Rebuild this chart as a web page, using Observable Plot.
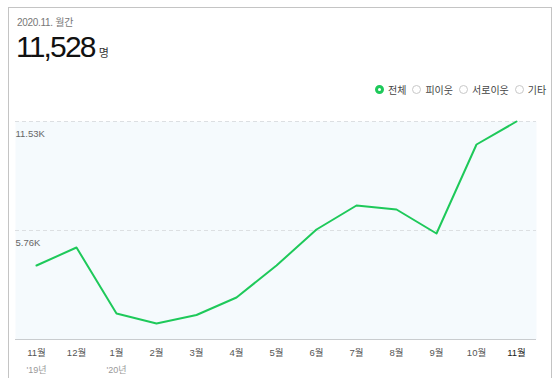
<!DOCTYPE html>
<html>
<head>
<meta charset="utf-8">
<script src="https://cdn.jsdelivr.net/npm/d3@7"></script>
<script src="https://cdn.jsdelivr.net/npm/@observablehq/plot@0.6"></script>
<style>
  html, body { margin: 0; padding: 0; background: #fff; }
  body { width: 554px; height: 378px; position: relative; overflow: hidden;
         font-family: "Liberation Sans", "Noto Sans CJK KR", sans-serif; }
  #frame { position: absolute; left: 8px; top: 7px; width: 544px; height: 380px;
           border: 1px solid #c4c4c4; border-bottom: none; box-sizing: border-box; }
  #sub { position: absolute; left: 17px; top: 14px; font-size: 10px; color: #777; letter-spacing: -0.3px; }
  #big { position: absolute; left: 16px; top: 30px; font-size: 30px; color: #111; letter-spacing: -1.8px; line-height: 34px; }
  #big span { font-size: 11px; letter-spacing: 0; margin-left: 4px; color: #333; }
  #legend { position: absolute; left: 375px; top: 82px; font-size: 10px; color: #444; display: flex; align-items: center; }
  .item { display: flex; align-items: center; margin-right: 6px; }
  .dot { width: 9px; height: 9px; border-radius: 50%; border: 1px solid #c8c8c8; box-sizing: border-box; margin-right: 4px; background: #fff; }
  .dot.on { border: 3px solid #1ec95a; background: #fff; }
  #chart { position: absolute; left: 0; top: 100px; }
</style>
</head>
<body>
<div id="frame"></div>
<div id="sub">2020.11. 월간</div>
<div id="big">11,528<span>명</span></div>
<div id="legend"></div>
<div id="chart"></div>
<script>
const months = ["11월","12월","1월","2월","3월","4월","5월","6월","7월","8월","9월","10월","11월 "];
const years  = ["'19년","","'20년","","","","","","","","","",""];
const visitors = [3913, 4865, 1375, 846, 1296, 2221, 3913, 5817, 7086, 6875, 5605, 10312, 11528];
const yTicks = [5764, 11528];
const yTickLabels = ["5.76K", "11.53K"];
const legendItems = ["전체", "피이웃", "서로이웃", "기타"];

const legend = document.getElementById("legend");
legendItems.forEach((name, i) => {
  const it = document.createElement("div");
  it.className = "item";
  const d = document.createElement("div");
  d.className = "dot" + (i === 0 ? " on" : "");
  const t = document.createElement("span");
  t.textContent = name;
  it.appendChild(d); it.appendChild(t);
  legend.appendChild(it);
});

const data = months.map((m, i) => ({month: m, year: years[i], value: visitors[i], last: i === months.length - 1}));
const ticks = yTicks.map((v, i) => ({v, label: yTickLabels[i]}));

const chart = Plot.plot({
  width: 554,
  height: 278,
  marginLeft: 15,
  marginRight: 18,
  marginTop: 21,
  marginBottom: 39,
  style: {background: "transparent", fontFamily: "Liberation Sans, Noto Sans CJK KR, sans-serif"},
  x: {type: "point", domain: months, padding: 0.5, axis: null},
  y: {domain: [0, 11528], axis: null},
  marks: [
    Plot.frame({fill: "#f5fafd", stroke: null}),
    Plot.ruleY(ticks, {y: "v", stroke: "#dcdfe2", strokeDasharray: "4,3"}),
    Plot.ruleY([0], {stroke: "#c9cccf"}),
    Plot.text(ticks, {y: "v", text: "label", frameAnchor: "left", textAnchor: "start", dy: 12, fontSize: 9.5, fill: "#666"}),
    Plot.line(data, {x: "month", y: "value", stroke: "#1ec95a", strokeWidth: 2}),
    Plot.text(data, {x: "month", text: d => d.month.trim(), frameAnchor: "bottom", dy: 16, fontSize: 9.5,
      fill: d => d.last ? "#222" : "#555", fontWeight: d => d.last ? "bold" : "normal"}),
    Plot.text(data, {x: "month", text: "year", frameAnchor: "bottom", dy: 33, fontSize: 9, fill: "#999"})
  ]
});
document.getElementById("chart").appendChild(chart);
</script>
</body>
</html>
